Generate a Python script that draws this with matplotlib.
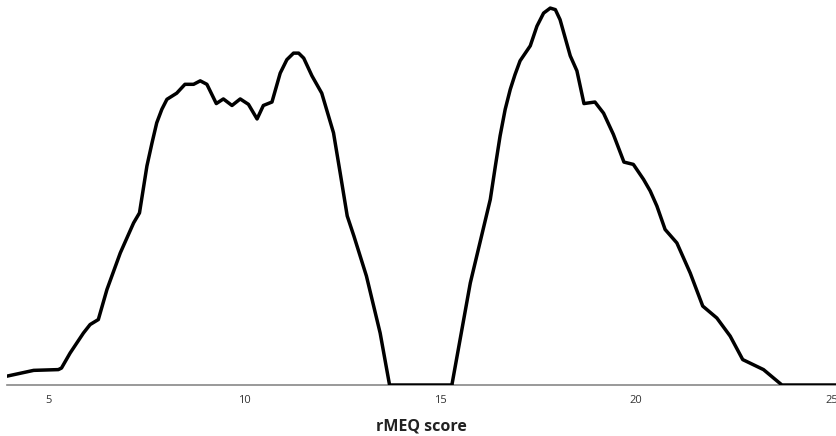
import matplotlib
matplotlib.use("Agg")
import matplotlib.pyplot as plt

# rMEQ score density (two groups)
score_a = [3.95, 4.63, 5.26, 5.34, 5.56, 5.73, 5.90, 6.07, 6.28, 6.50, 6.84, 7.18,
           7.33, 7.52, 7.65, 7.77, 7.90, 8.03, 8.28, 8.49, 8.71, 8.88, 9.05, 9.29,
           9.47, 9.69, 9.90, 10.11, 10.33, 10.49, 10.71, 10.92, 11.09, 11.26, 11.39,
           11.52, 11.73, 11.98, 12.28, 12.45, 12.63, 12.80, 13.12, 13.47, 13.71, 15.30]
dens_a = [0.0023, 0.0038, 0.0040, 0.0044, 0.0083, 0.0109, 0.0135, 0.0157, 0.0170,
          0.0248, 0.0343, 0.0421, 0.0447, 0.0569, 0.0629, 0.0681, 0.0716, 0.0742,
          0.0758, 0.0781, 0.0781, 0.0790, 0.0781, 0.0731, 0.0743, 0.0726, 0.0743,
          0.0729, 0.0691, 0.0726, 0.0735, 0.0810, 0.0845, 0.0862, 0.0862, 0.0849,
          0.0803, 0.0758, 0.0655, 0.0551, 0.0439, 0.0387, 0.0283, 0.0135, 0.0, 0.0]

score_b = [15.30, 15.77, 16.28, 16.41, 16.53, 16.66, 16.79, 16.91, 17.04, 17.30,
           17.47, 17.64, 17.81, 17.94, 18.06, 18.32, 18.49, 18.67, 18.95, 19.17,
           19.42, 19.69, 19.93, 20.19, 20.36, 20.53, 20.74, 21.04, 21.38, 21.70,
           22.06, 22.40, 22.72, 23.25, 23.72, 25.10]
dens_b = [0.0, 0.0265, 0.0482, 0.0569, 0.0647, 0.0716, 0.0768, 0.0806, 0.0842,
          0.0881, 0.0932, 0.0966, 0.0979, 0.0975, 0.0949, 0.0855, 0.0816, 0.0731,
          0.0735, 0.0706, 0.0651, 0.0579, 0.0573, 0.0534, 0.0504, 0.0465, 0.0404,
          0.0369, 0.0291, 0.0205, 0.0174, 0.0127, 0.0066, 0.0040, 0.0, 0.0]

xticks = [5, 10, 15, 20, 25]

fig = plt.figure(figsize=(8.36, 4.36), dpi=100)
ax = fig.add_axes([7 / 836, 51 / 436, 829 / 836, 385 / 436])
for xs, ys in [(score_a, dens_a), (score_b, dens_b)]:
    ax.plot(xs, ys, color="black", lw=2.5, solid_joinstyle="round",
            solid_capstyle="round", zorder=3)

ax.set_xlim(3.95, 25.10)
ax.set_ylim(0, 0.1)
for s in ["top", "right", "left"]:
    ax.spines[s].set_visible(False)
ax.spines["bottom"].set_color("#888888")
ax.spines["bottom"].set_linewidth(1.2)
ax.set_yticks([])
ax.set_xticks(xticks)
ax.set_xticklabels([str(t) for t in xticks], fontsize=8, color="#333333",
                   family="Open Sans")
ax.tick_params(axis="x", length=0, pad=7)
ax.set_xlabel("rMEQ score", fontsize=11.5, fontweight="bold", family="Open Sans",
              labelpad=9, color="#222222")

fig.savefig("out.png", dpi=100)
